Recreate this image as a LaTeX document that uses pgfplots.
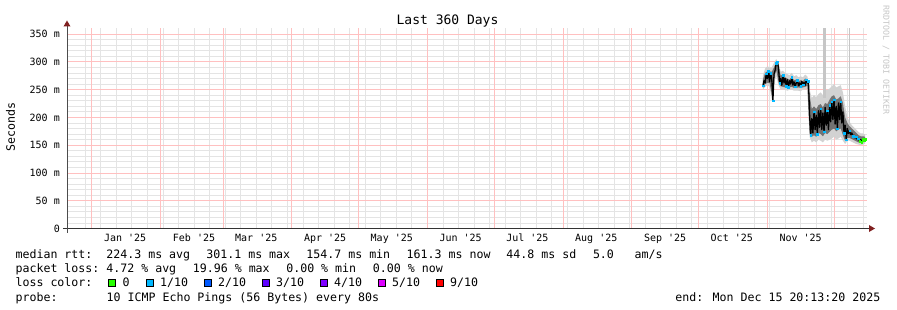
\documentclass[border=0pt]{standalone}
\usepackage{fontspec}
\newfontfamily\mono{DejaVu Sans Mono}
\usepackage{pgfplots}
\pgfplotsset{compat=1.18}
\usepackage{pgfplotstable}
\usepgfplotslibrary{fillbetween}

\definecolor{mgrid}{RGB}{255,192,192}
\definecolor{mingrid}{RGB}{228,228,228}
\definecolor{arrowc}{RGB}{128,32,32}
\definecolor{lzero}{HTML}{26FF00}
\definecolor{lone}{HTML}{00B8FF}
\definecolor{ltwo}{HTML}{0059FF}
\definecolor{lthree}{HTML}{5E00FF}
\definecolor{lfour}{HTML}{7E00FF}
\definecolor{lfive}{HTML}{DD00FF}
\definecolor{lnine}{HTML}{FF0000}

\newcommand\tf{\mono\fontsize{10bp}{12bp}\selectfont}
\newcommand\lf{\mono\fontsize{11.6bp}{13bp}\selectfont}

% median rtt (ms) by day since 1 Jan 2025
\pgfplotstableread{
d m
302.0 257
302.5 266
303.0 262
303.5 279
304.0 270
304.5 283
305.0 264
305.5 280
306.0 268
306.5 230
307.0 278
307.5 285
308.0 298
308.5 300
309.0 290
309.5 262
310.0 270
310.5 258
311.0 276
311.5 262
312.0 270
312.5 256
313.0 268
313.5 254
314.0 266
314.5 260
315.0 272
315.5 258
316.0 264
316.5 255
317.0 262
317.5 267
318.0 257
318.5 262
319.0 256
319.5 265
320.0 259
320.5 263
321.0 258
321.5 268
322.0 262
322.5 265
323.0 205
323.5 168
324.0 198
324.5 172
325.0 210
325.5 178
326.0 204
326.5 170
327.0 212
327.5 182
328.0 216
328.5 178
329.0 208
329.5 174
330.0 218
330.5 186
331.0 212
331.5 178
332.0 222
332.5 192
333.0 228
333.5 196
334.0 232
334.5 188
335.0 220
335.5 180
336.0 226
336.5 196
337.0 228
337.5 190
338.0 210
338.5 172
339.0 186
339.5 160
340.0 180
340.5 171
341.0 176
341.5 169
342.0 172
342.5 166
343.0 168
343.5 163
344.0 165
344.5 160
345.0 162
345.5 157
346.0 160
346.5 155
347.0 161
347.5 158
348.0 161
}\tmed

% smoke envelopes (ms)
\pgfplotstableread{
d lo2 lo1 hi1 hi2
302 250 253 268 275
303 255 260 280 288
304 258 262 283 292
305 255 262 283 290
306 232 240 282 290
307 262 270 290 298
308 275 285 300 305
309 258 265 292 298
310 250 256 275 282
311 250 255 277 284
312 250 254 272 280
313 248 253 270 278
314 250 254 268 276
315 250 255 273 280
316 248 253 267 274
317 248 253 268 276
318 248 254 265 272
319 247 253 267 274
320 250 254 265 272
321 250 255 270 277
322 252 257 268 274
323 165 172 240 250
324 155 165 215 235
325 158 168 220 240
326 155 165 215 236
327 160 172 222 242
328 158 170 224 245
329 155 166 218 240
330 160 172 226 248
331 158 170 224 250
332 160 174 232 252
333 162 178 238 256
334 165 180 240 260
335 160 175 232 254
336 162 178 234 256
337 165 180 238 258
338 158 168 226 245
339 152 158 200 220
340 158 163 190 200
341 158 163 184 192
342 156 161 180 186
343 154 159 176 182
344 152 157 172 178
345 151 155 168 174
346 150 154 166 171
347 151 155 166 171
348 153 156 165 169
}\tsmoke

\pgfplotstableread{
d m
302.0 257
303.5 279
304.5 283
305.5 280
306.5 230
308.0 298
308.5 300
309.5 262
311.0 276
312.5 256
313.5 254
315.0 272
316.5 255
317.5 267
319.0 256
320.0 259
321.5 268
322.5 265
323.5 168
325.0 210
326.5 170
328.0 216
329.5 174
331.0 212
332.0 222
333.0 228
334.0 232
335.5 180
337.0 228
338.5 172
339.5 160
341.0 176
342.5 166
344.0 165
345.0 162
}\tblue

\pgfplotstableread{
d m
345.5 157
346.5 155
347.0 161
347.5 158
348.0 161
}\tgreen

\begin{document}
\begin{tikzpicture}
\begin{axis}[
  at={(0,0)}, anchor=south west,
  scale only axis, width=800bp, height=200bp,
  xmin=-11.158, xmax=348.842, ymin=0, ymax=360,
  enlargelimits=false,
  axis line style={draw=none},
  tick style={draw=none},
  xtick={15,46,74,105,135,166,196,227,258,288,319},
  xticklabels={Jan '25,Feb '25,Mar '25,Apr '25,May '25,Jun '25,Jul '25,Aug '25,Sep '25,Oct '25,Nov '25},
  xticklabel style={font=\tf, anchor=base, yshift=-12.5bp},
  minor xtick={-3,4,...,347},
  extra x ticks={0,31,59,90,120,151,181,212,243,273,304,334},
  extra x tick labels={},
  extra x tick style={grid=major},
  ytick={0,50,...,350},
  yticklabels={0,50 m,100 m,150 m,200 m,250 m,300 m,350 m},
  yticklabel style={font=\tf, anchor=east, inner sep=0pt, xshift=-7bp},
  minor y tick num=4,
  xmajorgrids=false, xminorgrids=true,
  ymajorgrids=true, yminorgrids=true,
  major grid style={mgrid, line width=0.8bp},
  minor grid style={mingrid, line width=0.8bp},
]
\addplot[gray!45, line width=3.3bp] coordinates {(329.65,235) (329.65,360)};
\addplot[gray!45, line width=1.2bp] coordinates {(340.8,185) (340.8,360)};
\addplot[draw=none, name path=hitwo] table[x=d,y=hi2]{\tsmoke};
\addplot[draw=none, name path=lotwo] table[x=d,y=lo2]{\tsmoke};
\addplot[draw=none, name path=hione] table[x=d,y=hi1]{\tsmoke};
\addplot[draw=none, name path=loone] table[x=d,y=lo1]{\tsmoke};
\addplot[fill=gray!35, draw=none] fill between[of=hitwo and lotwo];
\addplot[fill=black!55, draw=none] fill between[of=hione and loone];
\addplot[black, line width=1.3bp, line join=round, mark=none] table[x=d,y=m]{\tmed};
\addplot[only marks, mark=square*, mark size=0.8bp, color=lone] table[x=d,y=m]{\tblue};
\addplot[only marks, mark=square*, mark size=0.8bp, color=lzero] table[x=d,y=m]{\tgreen};
\end{axis}
% axis lines with arrows
\draw[black!80, line width=1bp] (-4bp,0) -- (803bp,0);
\fill[arrowc] (802bp,3.5bp) -- (808bp,0) -- (802bp,-3.5bp) -- cycle;
\draw[black!70, line width=1bp] (0,-4bp) -- (0,203bp);
\fill[arrowc] (-3.5bp,202bp) -- (0,208bp) -- (3.5bp,202bp) -- cycle;
% titles
\node[anchor=base, inner sep=0pt, font=\mono\fontsize{13bp}{15bp}\selectfont] at (380.5bp,204.2bp) {Last 360 Days};
\node[rotate=90, inner sep=0pt, font=\lf] at (-56.5bp,101.5bp) {Seconds};
\node[rotate=-90, inner sep=0pt, text=gray!45, font=\mono\fontsize{8.3bp}{10bp}\selectfont] at (819bp,168.5bp) {RRDTOOL / TOBI OETIKER};
% legend
\begin{scope}[every node/.style={anchor=base west, inner sep=0pt, font=\lf}]
\node at (-51.6bp,-30.1bp) {median rtt:};
\node at (39.2bp,-30.1bp) {224.3 ms avg};
\node at (139.2bp,-30.1bp) {301.1 ms max};
\node at (239.2bp,-30.1bp) {154.7 ms min};
\node at (339.5bp,-30.1bp) {161.3 ms now};
\node at (439.2bp,-30.1bp) {44.8 ms sd};
\node at (525.8bp,-30.1bp) {5.0};
\node at (567.5bp,-30.1bp) {am/s};
\node at (-51.6bp,-44.1bp) {packet loss:};
\node at (39.2bp,-44.1bp) {4.72 \% avg};
\node at (125.7bp,-44.1bp) {19.96 \% max};
\node at (219.1bp,-44.1bp) {0.00 \% min};
\node at (305.7bp,-44.1bp) {0.00 \% now};
\node at (-51.6bp,-58.3bp) {loss color:};
\node at (55.3bp,-58.3bp) {0};
\node at (93bp,-58.3bp) {1/10};
\node at (151bp,-58.3bp) {2/10};
\node at (209bp,-58.3bp) {3/10};
\node at (267bp,-58.3bp) {4/10};
\node at (325bp,-58.3bp) {5/10};
\node at (383bp,-58.3bp) {9/10};
\node at (-51.6bp,-72.5bp) {probe:};
\node at (39.5bp,-72.5bp) {10 ICMP Echo Pings (56 Bytes) every 80s};
\node[anchor=base east] at (813.5bp,-72.5bp) {end: Mon Dec 15 20:13:20 2025};
\end{scope}
\foreach \bx/\bc in {41/lzero,79/lone,137/ltwo,195/lthree,253/lfour,311/lfive,369/lnine}{
  \filldraw[fill=\bc, draw=black, line width=0.6bp] (\bx bp,-58.0bp) rectangle ++(7.5bp,7.5bp);
}
\pgfresetboundingbox
\path[use as bounding box] (-67bp,-81.5bp) rectangle (830bp,228.5bp);
\end{tikzpicture}
\end{document}
